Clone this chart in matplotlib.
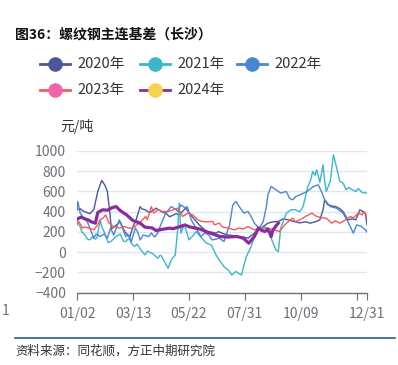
import matplotlib
matplotlib.use("Agg")
import matplotlib.pyplot as plt
from matplotlib.lines import Line2D

plt.rcParams["font.family"] = ["Noto Sans CJK SC", "DejaVu Sans"]

# day index counted from 01/02, values in 元/吨
day_2020 = [0, 4, 7, 10, 16, 21, 26, 31, 35, 38, 41, 43, 48, 54, 60, 66, 70, 74, 79, 81, 85, 91, 99,
            106, 111, 116, 124, 128, 136, 144, 153, 162, 167, 174, 177, 184, 189, 195, 202, 208,
            214, 222, 230, 239, 245, 252, 258, 264, 273, 279, 286, 292, 298, 304, 308, 310, 314,
            320, 324, 329, 333, 339, 344, 349, 354, 358, 361, 363]
val_2020 = [420, 430, 410, 400, 380, 420, 600, 710, 660, 600, 400, 230, 260, 300, 200, 150, 250, 320,
            450, 430, 420, 390, 435, 400, 386, 350, 380, 369, 435, 352, 270, 204, 200, 188, 204,
            180, 171, 165, 155, 150, 139, 188, 238, 287, 300, 303, 330, 320, 300, 290, 300, 287,
            300, 320, 419, 518, 468, 455, 451, 430, 402, 320, 330, 320, 419, 400, 386, 270]

day_2021 = [0, 4, 6, 10, 13, 16, 19, 23, 25, 29, 31, 34, 39, 43, 48, 54, 58, 61, 65, 68, 72, 75, 80,
            85, 88, 91, 96, 101, 104, 106, 110, 114, 118, 123, 126, 128, 130, 133, 136, 140, 145,
            149, 153, 156, 162, 168, 174, 178, 184, 189, 194, 199, 202, 206, 208, 212, 218, 222,
            227, 235, 243, 249, 252, 255, 262, 268, 273, 279, 283, 289, 292, 295, 298, 300, 304,
            308, 310, 312, 317, 321, 323, 326, 329, 333, 337, 340, 344, 349, 352, 357, 361, 363]
val_2021 = [320, 250, 200, 170, 130, 122, 150, 130, 140, 320, 250, 200, 95, 110, 150, 180, 110, 105,
            140, 90, 56, 80, 23, -27, 10, 0, -20, -60, -30, -40, -100, -158, -76, -27, 221, 485,
            188, 250, 238, 122, 160, 204, 170, 140, 89, 72, -27, -76, -142, -175, -225, -190, -208,
            -225, -158, -43, 56, 150, 221, 254, 139, 23, 6, 238, 386, 419, 420, 400, 451, 650, 700,
            798, 760, 815, 690, 864, 700, 600, 700, 963, 900, 800, 700, 683, 617, 640, 620, 600,
            630, 590, 584, 590]

day_2022 = [0, 1, 4, 10, 13, 16, 21, 24, 29, 34, 38, 42, 46, 53, 56, 61, 65, 68, 73, 76, 79, 83, 90,
            93, 97, 101, 104, 111, 118, 124, 126, 130, 135, 138, 143, 149, 155, 160, 165, 169, 175,
            178, 184, 188, 191, 195, 199, 203, 209, 214, 218, 222, 228, 233, 237, 239, 243, 249,
            255, 262, 266, 270, 274, 279, 288, 296, 302, 306, 310, 317, 325, 333, 339, 346, 350,
            356, 361, 363]
val_2022 = [420, 501, 386, 320, 300, 238, 139, 180, 155, 180, 139, 238, 170, 320, 260, 155, 170, 105,
            238, 200, 122, 170, 155, 190, 150, 188, 254, 386, 451, 420, 402, 468, 440, 450, 320,
            238, 155, 190, 170, 122, 130, 139, 105, 200, 270, 468, 501, 451, 386, 402, 353, 287,
            238, 300, 451, 567, 650, 617, 584, 600, 534, 518, 550, 567, 600, 650, 666, 600, 518,
            451, 435, 386, 303, 188, 270, 254, 221, 198]

day_2023 = [0, 2, 4, 7, 10, 14, 21, 25, 29, 33, 36, 40, 46, 53, 59, 65, 70, 78, 82, 86, 88, 93, 96,
            101, 107, 114, 120, 126, 129, 132, 139, 145, 151, 157, 164, 170, 172, 178, 182, 189,
            197, 203, 208, 214, 222, 230, 239, 247, 253, 260, 267, 270, 273, 279, 286, 294, 300,
            307, 312, 319, 323, 329, 336, 342, 346, 352, 357, 359, 363]
val_2023 = [270, 303, 280, 238, 250, 240, 221, 260, 320, 340, 369, 287, 254, 238, 254, 238, 240, 287,
            320, 353, 320, 451, 386, 419, 402, 402, 419, 435, 400, 353, 386, 369, 320, 303, 300,
            305, 270, 287, 250, 238, 221, 240, 230, 254, 221, 240, 238, 221, 204, 270, 320, 336,
            303, 320, 353, 386, 353, 340, 336, 287, 310, 287, 320, 353, 340, 386, 369, 402, 353]

day_2024 = [0, 5, 10, 14, 18, 23, 26, 32, 38, 44, 49, 54, 62, 70, 79, 85, 94, 99, 108, 116, 120, 129,
            135, 141, 154, 167, 179, 189, 200, 208, 215, 222, 227, 230, 235, 239, 242, 243, 245,
            249, 252]
val_2024 = [327, 346, 330, 320, 300, 287, 392, 419, 415, 440, 451, 412, 369, 313, 287, 248, 240, 214,
            228, 238, 232, 253, 270, 250, 228, 188, 155, 150, 155, 139, 89, 155, 238, 221, 204, 228,
            188, 155, 214, 260, 287]

years = ["2020年", "2021年", "2022年", "2023年", "2024年"]
line_colors = ["#4b579b", "#3bb6cb", "#4a86d2", "#f45a5a", "#8a2ca0"]
marker_colors = ["#4b579b", "#3bb6cb", "#4a86d2", "#f266a8", "#f2d44e"]

tick_days = [0, 70, 140, 210, 280, 350, 363]
tick_labels = ["01/02", "03/13", "05/22", "07/31", "10/09", "", "12/31"]
y_ticks = [-400, -200, 0, 200, 400, 600, 800, 1000]

W, H = 398, 365
fig = plt.figure(figsize=(W / 100, H / 100), dpi=100)
ax = fig.add_axes([77 / W, 1 - 292.7 / H, 290 / W, (292.7 - 151) / H])

series = [(day_2020, val_2020), (day_2021, val_2021), (day_2022, val_2022),
          (day_2023, val_2023), (day_2024, val_2024)]
for i, (d, v) in enumerate(series):
    lw = 2.3 if i == 4 else 1.0
    ax.plot(d, v, color=line_colors[i], lw=lw, zorder=3 + i)

ax.set_xlim(0, 363)
ax.set_ylim(-400, 1000)
ax.set_yticks(y_ticks)
ax.set_yticklabels([str(t).replace("-", "\u2212") for t in y_ticks])
ax.set_xticks(tick_days)
ax.set_xticklabels(tick_labels)
ax.grid(axis="y", color="#e0e6f1", lw=1)
ax.set_axisbelow(True)
for s in ["left", "right", "top"]:
    ax.spines[s].set_visible(False)
ax.spines["bottom"].set_color("#6e7079")
ax.spines["bottom"].set_linewidth(1)
ax.tick_params(axis="y", length=0, pad=8, labelsize=10, labelcolor="#6e7079")
ax.tick_params(axis="x", length=5, color="#6e7079", pad=5, labelsize=10, labelcolor="#6e7079")

# title
fig.text(15 / W, 1 - 35 / H, "图36：螺纹钢主连基差（长沙）", fontsize=10, fontweight="bold",
         color="#111111", va="center", ha="left")

# legend drawn by hand
legend_pos = [(40, 64), (140, 64), (237, 64), (40, 90), (140, 90)]
for i, (lx, ly) in enumerate(legend_pos):
    fig.add_artist(Line2D([lx / W, (lx + 30) / W], [1 - ly / H, 1 - ly / H],
                          color=line_colors[i], lw=2, transform=fig.transFigure))
    fig.add_artist(Line2D([(lx + 15) / W], [1 - ly / H], marker="o", markersize=9.5,
                          markerfacecolor=marker_colors[i], markeredgecolor=marker_colors[i],
                          transform=fig.transFigure))
    fig.text((lx + 37) / W, 1 - ly / H, years[i], fontsize=10.5, color="#333333",
             va="center", ha="left")

fig.text(60 / W, 1 - 127 / H, "元/吨", fontsize=10, color="#333333", va="center", ha="left")
fig.text(2 / W, 1 - 311 / H, "1", fontsize=10, color="#6e7079", va="center", ha="left")

# footer
fig.add_artist(Line2D([15 / W, 395 / W], [1 - 338 / H, 1 - 338 / H], color="#2a5d8a", lw=1.2,
                      transform=fig.transFigure))
fig.text(15 / W, 1 - 351 / H, "资料来源：同花顺，方正中期研究院", fontsize=9, color="#333333",
         va="center", ha="left")

fig.savefig("out.png", dpi=100)
